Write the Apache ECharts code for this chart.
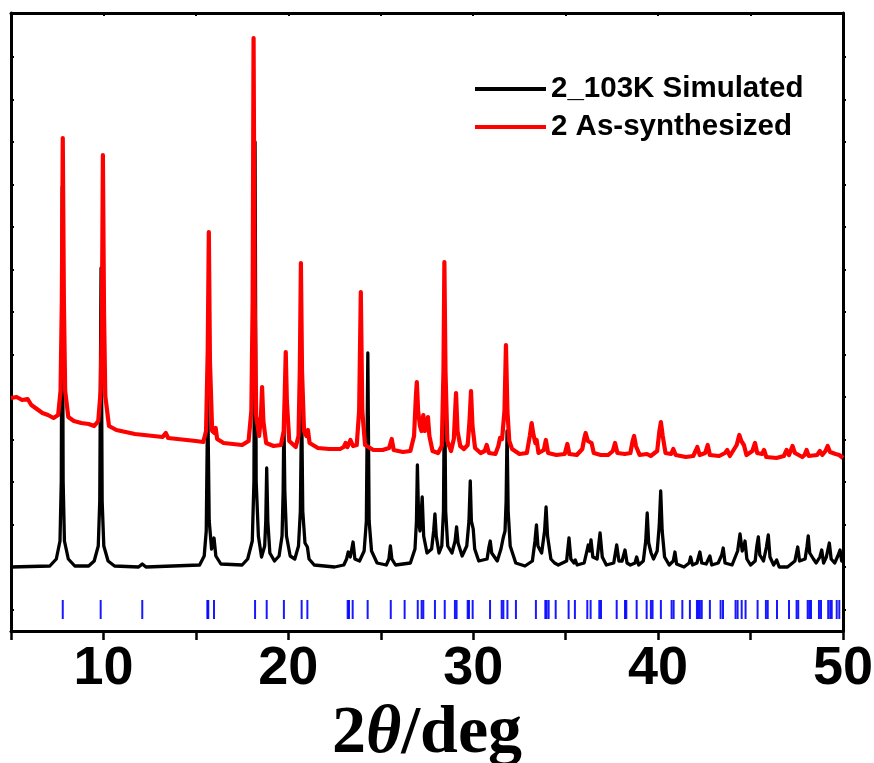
<!DOCTYPE html>
<html>
<head>
<meta charset="utf-8">
<script src="https://cdn.jsdelivr.net/npm/echarts@6/dist/echarts.min.js"></script>
<style>html,body{margin:0;padding:0;background:#fff;overflow:hidden;}#c{width:874px;height:763px;}</style>
</head>
<body>
<div id="c"></div>
<script>
// ---- data (2θ in degrees, intensity in arbitrary units) ----
const simulatedName = '2_103K Simulated';
const experimentalName = '2 As-synthesized';

const simulated = [
[5,64],[7.1,65],[7.45,72],[7.65,90],[7.72,150],[7.77,444],[7.82,150],[7.89,90],[8.1,72],[8.45,65],
[9.2,65],[9.5,70],[9.72,85],[9.8,130],[9.87,363],[9.93,130],[10.02,85],[10.25,70],[10.6,65],
[11.9,64],[12.1,67],[12.3,64],
[15.2,66],[15.45,75],[15.56,100],[15.64,235],[15.72,110],[15.85,82],[15.98,93],[16.08,75],[16.35,67],[17.5,66],
[17.8,72],[18.05,90],[18.14,150],[18.2,489],[18.26,150],[18.38,95],[18.55,74],[18.72,85],[18.78,110],[18.83,163],[18.89,110],[19.0,78],[19.25,70],
[19.5,75],[19.66,95],[19.72,140],[19.76,215],[19.81,140],[19.9,95],[20.1,75],[20.35,72],[20.55,85],[20.65,120],[20.72,230],[20.78,120],[20.9,88],[21.03,84],[21.12,72],[21.4,66],[22.5,64],
[23.0,66],[23.15,72],[23.24,79],[23.35,74],[23.5,89],[23.6,72],[23.85,70],[24.1,80],[24.22,110],[24.3,278],[24.37,110],[24.5,80],[24.8,68],[25.3,66],[25.44,72],[25.52,85],[25.6,72],[25.8,66],
[26.6,68],[26.85,82],[26.93,110],[26.98,166],[27.05,110],[27.12,100],[27.24,134],[27.32,95],[27.5,78],[27.75,82],[27.86,100],[27.93,117],[28.0,95],[28.15,78],
[28.3,85],[28.39,120],[28.45,260],[28.51,120],[28.62,85],[28.85,78],[29.02,90],[29.1,104],[29.18,88],[29.4,75],[29.65,85],[29.77,110],[29.84,150],[29.9,110],[30.0,102],[30.08,82],[30.3,70],
[30.75,72],[30.85,84],[30.92,90],[31.0,78],[31.3,70],[31.5,82],[31.62,93],[31.72,100],[31.78,130],[31.83,200],[31.89,120],[32.0,85],[32.3,68],[32.8,65],
[33.2,70],[33.34,90],[33.42,106],[33.5,85],[33.7,78],[33.86,100],[33.94,124],[34.02,95],[34.2,72],[34.4,68],[34.47,70],[34.6,66],
[35.05,70],[35.18,93],[35.28,72],[35.45,68],[35.52,71],[35.62,66],[36.0,68],[36.15,80],[36.22,86],[36.3,80],[36.37,91],[36.47,74],[36.7,72],[36.86,98],[36.98,74],[37.2,66],
[37.6,68],[37.76,86],[37.88,70],[38.05,70],[38.21,81],[38.32,68],[38.5,66],[38.75,68],[38.84,74],[38.95,66],[39.2,70],[39.33,90],[39.41,118],[39.49,88],[39.62,78],[39.75,72],
[39.95,80],[40.06,105],[40.14,140],[40.22,100],[40.35,74],[40.6,66],[40.82,70],[40.91,79],[41.0,67],[41.4,64],[41.68,68],[41.76,74],[41.86,66],[42.1,68],[42.26,79],[42.36,68],
[42.6,67],[42.8,75],[42.9,66],[43.25,68],[43.44,76],[43.52,83],[43.62,68],[44.0,66],[44.3,80],[44.43,97],[44.55,80],[44.63,84],[44.7,90],[44.8,72],[45.0,66],
[45.25,70],[45.34,85],[45.42,94],[45.5,76],[45.7,70],[45.86,84],[45.96,96],[46.05,74],[46.25,66],[46.41,71],[46.55,64],[47.0,64],[47.4,70],[47.55,84],[47.65,70],
[47.95,72],[48.05,84],[48.12,95],[48.2,78],[48.4,72],[48.55,68],[48.75,74],[48.85,81],[48.95,68],[49.1,74],[49.26,88],[49.36,72],[49.55,68],[49.72,75],[49.84,81],[49.93,70],[50,75]
];

const experimental = [
[5,233],[5.3,234],[5.6,231],[5.9,232],[6.1,226],[6.4,222],[6.7,218],[7.0,216],[7.3,213],[7.55,216],[7.68,240],[7.75,330],[7.8,493],[7.86,330],[7.93,240],[8.1,214],
[8.4,210],[8.8,208],[9.2,207],[9.5,205],[9.72,210],[9.85,240],[9.92,320],[9.97,476],[10.03,320],[10.1,235],[10.3,205],[10.7,201],[11.2,199],[11.7,197],[12.2,196],[12.7,195],
[13.2,194],[13.37,198],[13.5,193],[14.0,192],[14.5,191],[15.0,190],[15.4,189],[15.55,200],[15.64,280],[15.7,399],[15.76,270],[15.88,200],[16.0,198],[16.07,203],[16.15,192],
[16.5,188],[17.0,187],[17.5,186],[17.85,190],[18.0,220],[18.07,330],[18.12,593],[18.18,330],[18.26,215],[18.42,195],[18.52,215],[18.58,244],[18.65,210],[18.8,188],
[19.2,185],[19.6,186],[19.75,200],[19.81,240],[19.86,279],[19.92,230],[20.05,190],[20.4,184],[20.55,195],[20.62,260],[20.68,368],[20.74,260],[20.85,200],[20.98,195],[21.06,201],[21.15,188],
[21.6,183],[22.2,182],[22.8,182],[23.0,184],[23.1,188],[23.2,184],[23.36,191],[23.5,185],[23.7,186],[23.83,220],[23.92,339],[24.0,220],[24.15,186],[24.6,181],[25.1,181],[25.45,183],[25.59,192],[25.7,181],
[26.2,179],[26.6,180],[26.8,195],[26.9,235],[26.95,249],[27.02,220],[27.12,205],[27.2,200],[27.3,216],[27.38,200],[27.47,205],[27.55,214],[27.63,195],[27.8,180],
[28.1,178],[28.3,185],[28.39,260],[28.44,369],[28.5,260],[28.6,190],[28.8,180],[28.95,192],[29.07,238],[29.15,200],[29.3,185],[29.5,182],[29.7,186],[29.8,210],[29.88,240],[29.96,205],[30.1,183],
[30.4,178],[30.62,180],[30.73,186],[30.85,178],[31.2,177],[31.36,185],[31.45,193],[31.56,192],[31.69,220],[31.77,286],[31.85,220],[31.95,190],[32.1,182],[32.5,177],
[32.9,178],[33.06,195],[33.16,208],[33.26,196],[33.36,188],[33.43,191],[33.53,178],[33.82,181],[33.93,191],[34.05,178],[34.5,176],[34.95,177],[35.09,187],[35.2,177],
[35.6,176],[35.9,182],[36.0,192],[36.08,198],[36.2,190],[36.4,188],[36.52,178],[36.9,176],[37.3,176],[37.55,180],[37.67,188],[37.8,178],[38.2,177],[38.5,178],[38.62,190],[38.7,195],[38.8,185],
[39.0,176],[39.4,177],[39.6,175],[39.95,180],[40.07,200],[40.15,209],[40.25,195],[40.4,178],[40.7,177],[40.82,182],[40.95,176],[41.5,174],[41.9,175],[42.05,181],[42.12,184],[42.25,176],
[42.55,178],[42.68,186],[42.8,176],[43.3,175],[43.62,178],[43.74,181],[43.88,175],[44.25,186],[44.39,196],[44.5,190],[44.64,186],[44.78,176],[45.1,180],[45.24,188],[45.36,178],
[45.62,177],[45.73,181],[45.85,174],[46.4,173],[46.8,175],[46.95,181],[47.08,176],[47.27,185],[47.4,178],[47.8,174],[47.92,176],[48.03,181],[48.15,175],[48.6,176],[48.75,180],[48.88,176],
[49.05,180],[49.17,185],[49.3,179],[49.6,177],[49.8,176],[50,173]
];

// calculated reflection positions (blue tick marks)
const reflections = [
7.80,9.85,12.10,15.62,15.67,15.98,18.20,18.83,19.76,20.72,21.03,23.21,23.28,23.48,24.29,25.54,26.29,27.00,27.21,27.30,27.93,28.46,
29.01,29.10,29.70,29.77,29.97,30.91,31.54,31.63,31.85,32.31,33.39,33.90,33.97,34.08,34.46,35.16,35.50,36.17,36.35,36.82,36.91,37.76,
38.21,38.28,38.84,39.38,39.61,39.70,40.15,40.73,40.84,41.31,41.72,42.10,42.17,42.26,42.36,42.80,43.38,43.51,44.19,44.30,44.52,44.73,
45.38,45.83,45.93,46.43,47.08,47.49,47.58,48.09,48.18,48.27,48.70,48.81,49.20,49.31,49.39,49.66,49.80
];
const reflectionLevel = 21.5;

const xMin = 5, xMax = 50, xStep = 5;
const yMin = 0, yMax = 618;
const yTickLevels = [21.5,64,106.5,149,191.5,234,276.5,319,361.5,404,446.5,489,531.5,574];

// ---- chart ----
const chart = echarts.init(document.getElementById('c'), null, {renderer: 'canvas'});
const sans = '"Liberation Sans Narrow","Arial Narrow","Liberation Sans",Arial,sans-serif';
const serif = '"Liberation Serif","Times New Roman",serif';
const axisLineStyle = {color: '#000', width: 3};

chart.setOption({
  animation: false,
  backgroundColor: '#fff',
  grid: {left: 11, right: 31, top: 13, bottom: 132, containLabel: false, outerBoundsMode: 'none'},
  legend: {
    orient: 'vertical', left: 475, top: 74, itemGap: 8, padding: 0,
    itemWidth: 71, itemHeight: 4, icon: 'rect',
    data: [simulatedName, experimentalName],
    textStyle: {fontFamily: sans, fontWeight: 'bold', fontSize: 29.5, color: '#000', letterSpacing: -0.3}
  },
  xAxis: [{
    type: 'value', min: xMin, max: xMax, interval: xStep, position: 'bottom',
    axisLine: {show: true, onZero: false, lineStyle: axisLineStyle},
    axisTick: {show: true, inside: false, length: 9, lineStyle: {color: '#000', width: 2.5}},
    axisLabel: {
      show: true, margin: 11, color: '#000',
      fontFamily: sans, fontWeight: 'bold', fontSize: 54,
      formatter: v => (v % 10 === 0 ? String(v) : '')
    },
    splitLine: {show: false},
    name: '{a|2}{b|θ}{a|/deg}', nameLocation: 'middle', nameGap: 47,
    nameTextStyle: {
      rich: {
        a: {fontFamily: serif, fontWeight: 'bold', fontSize: 68, color: '#000'},
        b: {fontFamily: serif, fontWeight: 'bold', fontStyle: 'italic', fontSize: 68, color: '#000'}
      }
    }
  }, {
    type: 'value', min: xMin, max: xMax, interval: xStep, position: 'top',
    axisLine: {show: true, onZero: false, lineStyle: axisLineStyle},
    axisTick: {show: true, inside: true, length: 3, lineStyle: {color: '#000', width: 2}},
    axisLabel: {show: false}, splitLine: {show: false}
  }],
  yAxis: [{
    type: 'value', min: yMin, max: yMax, position: 'left',
    axisLine: {show: true, onZero: false, lineStyle: axisLineStyle},
    axisTick: {show: true, inside: true, length: 3, customValues: yTickLevels, lineStyle: {color: '#000', width: 2}},
    axisLabel: {show: false}, splitLine: {show: false}
  }, {
    type: 'value', min: yMin, max: yMax, position: 'right',
    axisLine: {show: true, onZero: false, lineStyle: axisLineStyle},
    axisTick: {show: true, inside: false, length: 3, customValues: yTickLevels, lineStyle: {color: '#000', width: 2}},
    axisLabel: {show: false}, splitLine: {show: false}
  }],
  series: [{
    name: 'reflections', type: 'scatter', xAxisIndex: 0, yAxisIndex: 0,
    symbol: 'rect', symbolSize: [2, 19], silent: true,
    itemStyle: {color: '#0000ff', opacity: 0.9},
    data: reflections.map(x => [x, reflectionLevel])
  }, {
    name: simulatedName, type: 'line', xAxisIndex: 0, yAxisIndex: 0,
    showSymbol: false, symbol: 'none', smooth: false,
    lineStyle: {color: '#000', width: 3.3, join: 'round'},
    itemStyle: {color: '#000'},
    data: simulated
  }, {
    name: experimentalName, type: 'line', xAxisIndex: 0, yAxisIndex: 0,
    showSymbol: false, symbol: 'none', smooth: false,
    lineStyle: {color: '#ff0000', width: 4.2, join: 'round'},
    itemStyle: {color: '#ff0000'},
    data: experimental
  }]
});
</script>
</body>
</html>
